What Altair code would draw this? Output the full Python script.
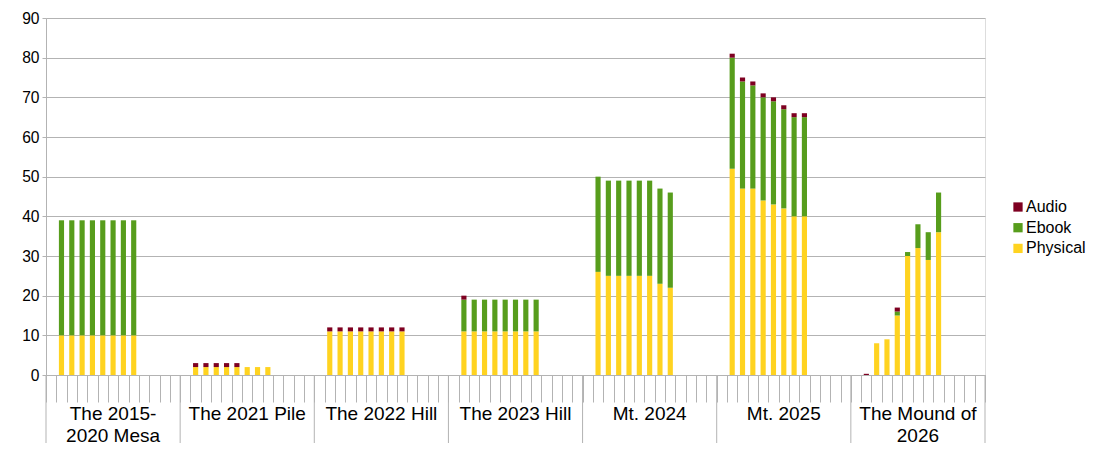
import altair as alt
import pandas as pd

# ---- data ----
group_labels = ["The 2015-\n2020 Mesa", "The 2021 Pile", "The 2022 Hill", "The 2023 Hill",
                "Mt. 2024", "Mt. 2025", "The Mound of\n2026"]
physical = [
    [10, 10, 10, 10, 10, 10, 10, 10],
    [2, 2, 2, 2, 2, 2, 2, 2],
    [11, 11, 11, 11, 11, 11, 11, 11],
    [11, 11, 11, 11, 11, 11, 11, 11],
    [26, 25, 25, 25, 25, 25, 23, 22],
    [52, 47, 47, 44, 43, 42, 40, 40],
    [0, 8, 9, 15, 30, 32, 29, 36],
]
ebook = [
    [29, 29, 29, 29, 29, 29, 29, 29],
    [0, 0, 0, 0, 0, 0, 0, 0],
    [0, 0, 0, 0, 0, 0, 0, 0],
    [8, 8, 8, 8, 8, 8, 8, 8],
    [24, 24, 24, 24, 24, 24, 24, 24],
    [28, 27, 26, 26, 26, 25, 25, 25],
    [0, 0, 0, 1, 1, 6, 7, 10],
]
audio = [
    [0, 0, 0, 0, 0, 0, 0, 0],
    [1, 1, 1, 1, 1, 0, 0, 0],
    [1, 1, 1, 1, 1, 1, 1, 1],
    [1, 0, 0, 0, 0, 0, 0, 0],
    [0, 0, 0, 0, 0, 0, 0, 0],
    [1, 1, 1, 1, 1, 1, 1, 1],
    [0.3, 0, 0, 1, 0, 0, 0, 0],
]
series = ["Audio", "Ebook", "Physical"]
colors = ["#7E0021", "#579D1C", "#FFD320"]
stack_rank = {"Physical": 0, "Ebook": 1, "Audio": 2}

SLOTS_PER_GROUP = 13
n_groups = len(group_labels)
n_slots = SLOTS_PER_GROUP * n_groups

rows = []
for g in range(n_groups):
    for i in range(len(physical[g])):
        slot = g * SLOTS_PER_GROUP + 1 + i
        for name, arr in (("Physical", physical), ("Ebook", ebook), ("Audio", audio)):
            v = arr[g][i]
            if v > 0:
                rows.append({"slot": slot, "type": name, "value": v, "rank": stack_rank[name]})
bars_df = pd.DataFrame(rows)

groups_df = pd.DataFrame({
    "start": [g * SLOTS_PER_GROUP for g in range(n_groups)],
    "mid": [g * SLOTS_PER_GROUP + 6 for g in range(n_groups)],
    "label": group_labels,
})
end_df = pd.DataFrame({"slot": [n_slots - 1]})

W, H = 939, 357
GRAY = "#b3b3b3"
FONT = "Liberation Sans"

xscale = alt.Scale(domain=list(range(n_slots)), paddingInner=0, paddingOuter=0)

bars = alt.Chart(bars_df).mark_bar(width=alt.RelativeBandSize(0.5)).encode(
    x=alt.X("slot:O", scale=xscale,
            axis=alt.Axis(labels=False, title=None, tickBand="extent", tickSize=27,
                          tickColor=GRAY, domainColor=GRAY, grid=False)),
    y=alt.Y("value:Q", stack="zero", scale=alt.Scale(domain=[0, 90], nice=False),
            axis=alt.Axis(values=list(range(0, 91, 10)), title=None, tickSize=4,
                          labelPadding=3, tickColor=GRAY, domainColor=GRAY,
                          gridColor=GRAY, labelFontSize=15.6, labelColor="black",
                          labelFont=FONT)),
    color=alt.Color("type:N", scale=alt.Scale(domain=series, range=colors),
                    legend=alt.Legend(title=None, orient="none", legendX=964, legendY=181,
                                      symbolType="square", symbolSize=86,
                                      symbolStrokeWidth=0, labelFontSize=16,
                                      labelFont=FONT, labelColor="black",
                                      labelOffset=0, rowPadding=4.7, padding=0)),
    order=alt.Order("rank:Q"),
)

sep = alt.Chart(groups_df).mark_rule(color=GRAY, strokeWidth=1).encode(
    x=alt.X("start:O", scale=xscale, bandPosition=0),
    y=alt.value(H), y2=alt.value(H + 68),
)
sep_end = alt.Chart(end_df).mark_rule(color=GRAY, strokeWidth=1).encode(
    x=alt.X("slot:O", scale=xscale, bandPosition=1),
    y=alt.value(H), y2=alt.value(H + 68),
)
labels = alt.Chart(groups_df).mark_text(
    fontSize=19, font=FONT, color="black", align="center", baseline="alphabetic",
    lineBreak="\n", lineHeight=22,
).encode(
    x=alt.X("mid:O", scale=xscale, bandPosition=0.5),
    y=alt.value(H + 45),
    text="label:N",
)

chart = alt.layer(bars, sep, sep_end, labels).properties(
    width=W, height=H,
    autosize=alt.AutoSizeParams(type="none"),
    padding={"left": 38, "top": 10, "right": 103, "bottom": 72},
).configure_view(stroke=GRAY).configure(background="white")

chart.save("out.html", embed_options={"renderer": "svg", "actions": False})
